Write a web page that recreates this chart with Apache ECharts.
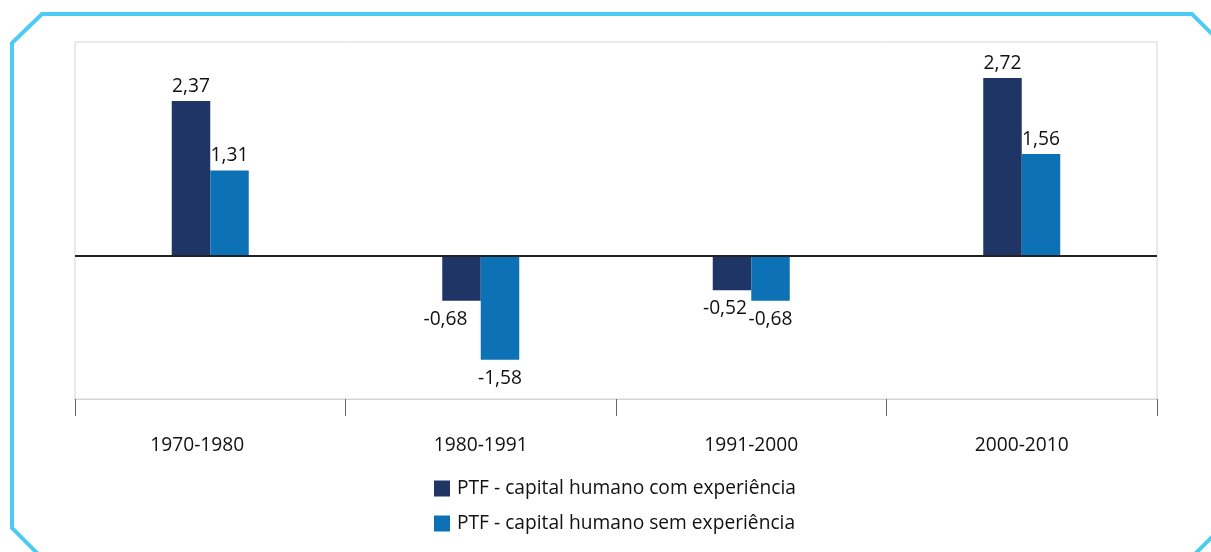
<!DOCTYPE html>
<html>
<head>
<meta charset="utf-8">
<script src="https://cdn.jsdelivr.net/npm/echarts@6/dist/echarts.min.js"></script>
<style>
  html, body { margin: 0; padding: 0; background: #fff; }
  #chart { width: 1211px; height: 552px; }
</style>
</head>
<body>
<div id="chart"></div>
<script>
// dados do gráfico
const periods = ['1970-1980', '1980-1991', '1991-2000', '2000-2010'];
const comExperiencia = [2.37, -0.68, -0.52, 2.72];
const semExperiencia = [1.31, -1.58, -0.68, 1.56];
const seriesNames = ['PTF - capital humano com experiência', 'PTF - capital humano sem experiência'];

(function(){
    const chart = echarts.init(document.getElementById('chart'), null, {renderer: 'canvas'});
    const FONT = '"Open Sans", "Noto Sans", sans-serif';
    const FS = 19.2;
    const fmt = v => v.toFixed(2).replace('.', ',');

    // rótulos: positivos acima, negativos abaixo
    function toData(values, offsets){
        return values.map((v, i) => ({
            value: v,
            label: {
                position: v >= 0 ? 'top' : 'bottom',
                distance: v >= 0 ? 5 : 9,
                offset: (offsets && offsets[i]) || [0, 0]
            }
        }));
    }

    const labelStyle = {
        show: true,
        color: '#111',
        fontFamily: FONT,
        fontSize: FS,
        formatter: p => fmt(p.value)
    };

    // o primeiro rótulo do eixo aparece um pouco à esquerda no original
    const categoryData = periods.map((p, i) => i === 0 ? {value: p, textStyle: {padding: [0, 26, 0, 0]}} : p);

    chart.setOption({
        backgroundColor: '#fff',
        animation: false,
        graphic: [{
            type: 'polygon',
            silent: true,
            shape: {points: [[12, 43], [42, 14], [1192, 14], [1227, 49], [1227, 522], [1189, 560], [44, 560], [12, 528]]},
            style: {fill: 'none', stroke: '#4ccbf3', lineWidth: 4}
        }],
        grid: {
            left: 75, right: 54, top: 42, bottom: 153,
            show: true, borderColor: '#d4d4d4', borderWidth: 1
        },
        legend: {
            orient: 'vertical',
            left: 434, top: 479,
            padding: 0,
            itemWidth: 16, itemHeight: 16, itemGap: 16,
            icon: 'rect',
            selectedMode: false,
            textStyle: {color: '#111', fontFamily: FONT, fontSize: FS, lineHeight: 16, padding: [0, 0, 0, 2]},
            data: seriesNames
        },
        xAxis: {
            type: 'category',
            data: categoryData,
            axisLine: {onZero: false, lineStyle: {color: '#d4d4d4', width: 1}},
            axisTick: {show: true, length: 17, inside: false, interval: 0, lineStyle: {color: '#666'}},
            axisLabel: {color: '#111', fontFamily: FONT, fontSize: FS, margin: 37, interval: 0},
            splitLine: {show: false}
        },
        yAxis: {
            type: 'value',
            min: -2.18, max: 3.27,
            show: false,
            splitLine: {show: false}
        },
        series: [
            {
                name: seriesNames[0],
                type: 'bar',
                barWidth: 38.5,
                barGap: '0%',
                itemStyle: {color: '#1f3566'},
                label: labelStyle,
                data: toData(comExperiencia, [null, [-16, 0], [-7, 0], null]),
                markLine: {
                    silent: true,
                    symbol: 'none',
                    label: {show: false},
                    lineStyle: {color: '#222', width: 2, type: 'solid'},
                    data: [{yAxis: 0}]
                }
            },
            {
                name: seriesNames[1],
                type: 'bar',
                barWidth: 38.5,
                barGap: '0%',
                itemStyle: {color: '#0d72b5'},
                label: labelStyle,
                data: toData(semExperiencia)
            }
        ]
    });
    window.addEventListener('resize', () => chart.resize());
})();
</script>
</body>
</html>
